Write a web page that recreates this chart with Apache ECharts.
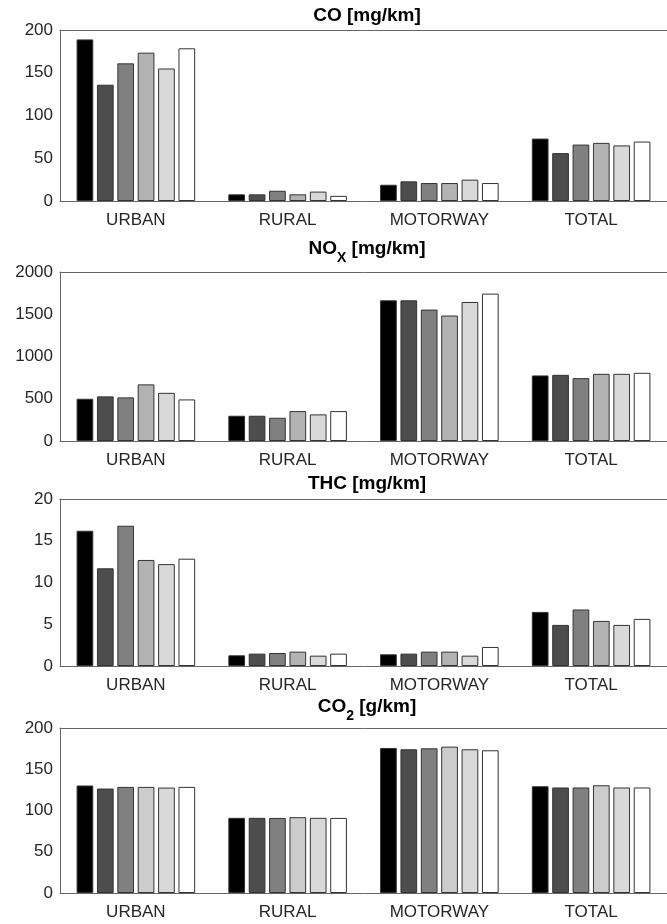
<!DOCTYPE html>
<html>
<head>
<meta charset="utf-8">
<script src="https://cdn.jsdelivr.net/npm/echarts@6/dist/echarts.min.js"></script>
<style>
  html, body { margin: 0; padding: 0; background: #fff; }
  #chart { width: 667px; height: 924px; }
</style>
</head>
<body>
<div id="chart"></div>
<script>
// categories on x
const categories = ["URBAN", "RURAL", "MOTORWAY", "TOTAL"];

// one row per bar colour (black -> white), one value per category
const coValues = [
  [189, 7.8, 19, 73],
  [136, 7.8, 23, 56],
  [161, 12, 21, 66],
  [173.5, 7.8, 21, 68],
  [155, 11, 25, 65],
  [178.6, 6, 21, 69.5],
];
const noxValues = [
  [500, 299, 1665, 776],
  [528, 299, 1665, 783],
  [516, 275, 1555, 744],
  [670, 354, 1485, 795],
  [570, 315, 1645, 795],
  [492, 354, 1744, 807],
];
const thcValues = [
  [16.2, 1.28, 1.4, 6.48],
  [11.7, 1.48, 1.48, 4.92],
  [16.8, 1.56, 1.72, 6.77],
  [12.7, 1.72, 1.72, 5.4],
  [12.2, 1.24, 1.24, 4.92],
  [12.85, 1.48, 2.28, 5.64],
];
const co2Values = [
  [130.3, 91.1, 175.8, 129.4],
  [126.6, 91.1, 174.2, 127.9],
  [128.6, 91, 175.4, 127.9],
  [128.6, 91.9, 177.4, 130.6],
  [127.8, 91.1, 174.2, 127.9],
  [128.6, 91, 173, 127.9],
];

// y axis ranges
const yMax = [200, 2000, 20, 200];
const yStep = [50, 500, 5, 50];

// titles (rich text: b = normal bold, s = subscript)
const titles = [
  "{b|CO [mg/km]}",
  "{b|NO}{s|X}{b| [mg/km]}",
  "{b|THC [mg/km]}",
  "{b|CO}{s|2}{b| [g/km]}",
];

const panels = [coValues, noxValues, thcValues, co2Values];

// layout / styles
const gridTops = [30, 272, 499, 728];
const gridHeights = [171, 169, 167, 165];
const titleTops = [6, 238.5, 473.5, 696.5];
const grays = ["#000000", "#4d4d4d", "#808080", "#b3b3b3", "#d9d9d9", "#ffffff"];
const co2Grays = ["#000000", "#4d4d4d", "#808080", "#cccccc", "#d9d9d9", "#ffffff"];
const FONT = "Liberation Sans, Arial, sans-serif";
const AXIS_COLOR = "#666666";
const TEXT_COLOR = "#262626";

const chart = echarts.init(document.getElementById("chart"));

const grid = [];
const xAxis = [];
const yAxis = [];
const title = [];
const series = [];

panels.forEach((rows, gi) => {
  grid.push({ left: 60, width: 617, top: gridTops[gi], height: gridHeights[gi] });

  title.push({
    text: titles[gi],
    left: 367,
    top: titleTops[gi],
    textAlign: "center",
    padding: 0,
    textStyle: {
      rich: {
        b: { fontFamily: FONT, fontWeight: "bold", fontSize: 19, color: "#000", lineHeight: 20 },
        s: { fontFamily: FONT, fontWeight: "bold", fontSize: 14, color: "#000", lineHeight: 13, padding: [20, 0, 0, 0] },
      },
    },
  });

  // bottom axis with labels
  xAxis.push({
    type: "category",
    gridIndex: gi,
    data: categories,
    position: "bottom",
    axisLine: { lineStyle: { color: AXIS_COLOR, width: 1 } },
    axisTick: { inside: true, length: 5, alignWithLabel: true, lineStyle: { color: AXIS_COLOR } },
    axisLabel: { fontFamily: FONT, fontSize: 17, color: TEXT_COLOR, margin: 11 },
  });

  yAxis.push({
    type: "value",
    gridIndex: gi,
    min: 0,
    max: yMax[gi],
    interval: yStep[gi],
    splitLine: { show: false },
    axisLine: { show: true, lineStyle: { color: AXIS_COLOR, width: 1 } },
    axisTick: { show: false },
    axisLabel: {
      fontFamily: FONT, fontSize: 17, color: TEXT_COLOR, margin: 7,
      formatter: (v) => String(v),
    },
  });

  const colors = gi === 3 ? co2Grays : grays;
  rows.forEach((vals, i) => {
    series.push({
      type: "bar",
      xAxisIndex: gi,
      yAxisIndex: gi,
      data: vals,
      barWidth: 16.7,
      barGap: "22%",
      itemStyle: { color: colors[i], borderColor: "#333333", borderWidth: 1 },
      silent: true,
    });
  });
});

// top axes: just the box line and inward ticks
panels.forEach((rows, gi) => {
  xAxis.push({
    type: "category",
    gridIndex: gi,
    data: categories,
    position: "top",
    axisLine: { lineStyle: { color: AXIS_COLOR, width: 1 } },
    axisTick: { inside: true, length: 5, alignWithLabel: true, lineStyle: { color: "#333333" } },
    axisLabel: { show: false },
  });
});

chart.setOption({
  animation: false,
  backgroundColor: "#ffffff",
  title: title,
  grid: grid,
  xAxis: xAxis,
  yAxis: yAxis,
  series: series,
});
</script>
</body>
</html>
